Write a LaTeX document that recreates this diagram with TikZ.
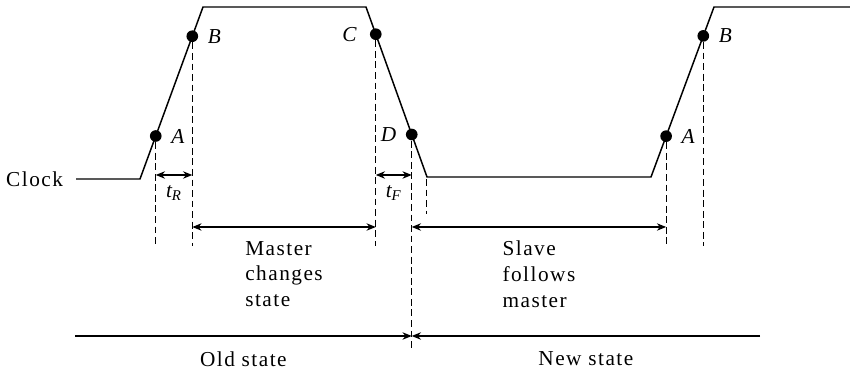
\documentclass[tikz,border=0pt]{standalone}
\usepackage{fontspec}
\setmainfont{Liberation Serif}[LetterSpace=7]
\usetikzlibrary{arrows.meta, positioning, calc}

\begin{document}
\begin{tikzpicture}[x=0.019cm,y=-0.019cm,>={Stealth[length=5pt,width=4pt]},
  font=\fontsize{11.5}{14}\selectfont,
  wave/.style={line width=0.8pt},
  dot/.style={circle,fill,inner sep=0pt,minimum size=6.3pt},
  guide/.style={line width=0.6pt,dash pattern=on 3.7pt off 2pt},
  span/.style={line width=0.6pt,<->}]
\useasboundingbox (0,0) rectangle (850,376);
% clock waveform
\coordinate (lo0) at (76,179);
\coordinate (r1) at (140,179);
\coordinate (r2) at (203,7);
\coordinate (f1) at (366,7);
\coordinate (f2) at (427,177);
\coordinate (r3) at (651,177);
\coordinate (r4) at (714,7);
\coordinate (hi1) at (850,7);
\draw[wave] (lo0) -- (r1) -- (r2) -- (f1) -- (f2) -- (r3) -- (r4) -- (hi1);
\node[left=3.5pt of lo0] (clock) {Clock};
% threshold points
\node[dot] (A1) at ($(r1)!0.25!(r2)$) {};
\node[dot] (B1) at ($(r1)!0.83!(r2)$) {};
\node[dot] (C) at ($(f1)!0.16!(f2)$) {};
\node[dot] (D) at ($(f1)!0.75!(f2)$) {};
\node[dot] (A2) at ($(r3)!0.24!(r4)$) {};
\node[dot] (B2) at ($(r3)!0.83!(r4)$) {};
\node[right=1.5pt of A1] (lA1) {\itshape A};
\node[right=1.5pt of B1] (lB1) {\itshape B};
\node[left=3.5pt of C] (lC) {\itshape C};
\node[left=1.5pt of D] (lD) {\itshape D};
\node[right=1.5pt of A2] (lA2) {\itshape A};
\node[right=1.5pt of B2] (lB2) {\itshape B};
% levels
\coordinate (yt) at (0,175);
\coordinate (ys) at (0,227);
\coordinate (yg) at (0,246);
\coordinate (ystate) at (0,336);
\coordinate (yend) at (0,350);
% dashed guides
\draw[guide] (A1) -- (A1 |- yg);
\draw[guide] (B1) -- (B1 |- yg);
\draw[guide] (C) -- (C |- yg);
\draw[guide] (D) -- (D |- yend);
\draw[guide] ($(f2)+(-0.5,2)$) -- ($(f2)+(-0.5,37)$);
\draw[guide] (A2) -- (A2 |- yg);
\draw[guide] (B2) -- (B2 |- yg);
% rise and fall times
\draw[span] (A1 |- yt) -- node[below=2pt] (tR) {\itshape t\textsubscript{R}} (B1 |- yt);
\draw[span] (C |- yt) -- node[below=2pt] (tF) {\itshape t\textsubscript{F}} (D |- yt);
% master and slave intervals
\draw[span] (B1 |- ys) -- node[below=4pt,align=left] (master) {Master\\changes\\state} (C |- ys);
\draw[span] (D |- ys) -- node[below=4pt,align=left] (slave) {Slave\\follows\\master} (A2 |- ys);
% states
\coordinate (old0) at (75,336);
\coordinate (new1) at (760,336);
\draw[->,line width=0.6pt] (old0) -- node[below=5pt] (old) {Old state} (D |- ystate);
\draw[->,line width=0.6pt] (new1) -- node[below=5pt] (new) {New state} (D |- ystate);
\end{tikzpicture}
\end{document}
